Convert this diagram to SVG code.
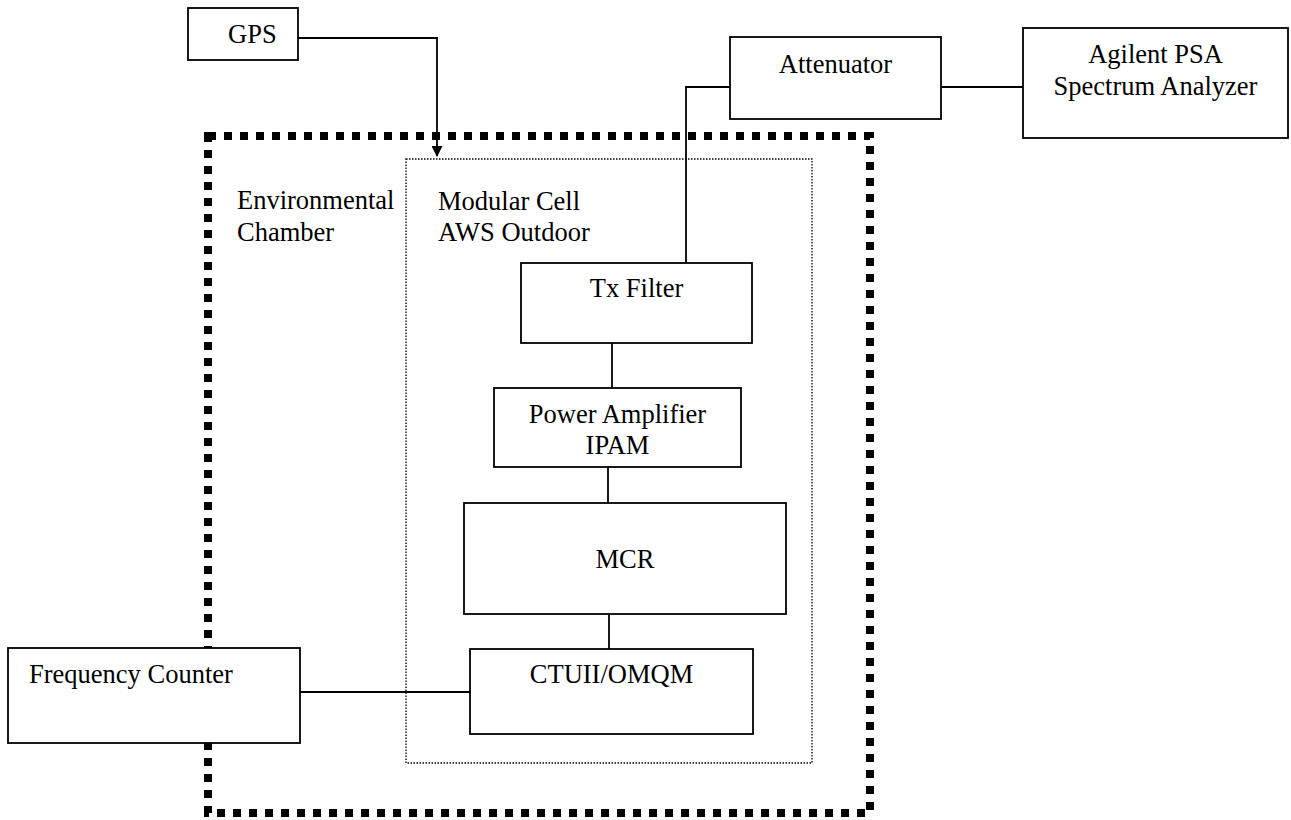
<svg xmlns="http://www.w3.org/2000/svg" width="1291" height="820" viewBox="0 0 1291 820">
<defs>
<marker id="arrow" markerWidth="11" markerHeight="11" refX="10" refY="5.5" orient="auto" markerUnits="userSpaceOnUse">
<path d="M0,0 L11,5.5 L0,11 Z" fill="#000"/>
</marker>
</defs>
<style>
.box{fill:#fff;stroke:#000;stroke-width:1.8}
.t{font-family:"Liberation Serif","Times New Roman",serif;font-size:26.5px;fill:#000}
.c{text-anchor:middle}
.conn{fill:none;stroke:#000;stroke-width:1.8}
.outer{fill:none;stroke:#000;stroke-width:8;stroke-dasharray:8 8}
.inner{fill:none;stroke:#000;stroke-width:1.3;stroke-dasharray:1.5 1.5}
</style>
<rect id="bg" x="0" y="0" width="1291" height="820" fill="#fff"/>
<g id="environmental-chamber">
<rect class="outer" x="208" y="136" width="662" height="677"/>
<text class="t" x="237" y="209">Environmental</text>
<text class="t" x="237" y="241">Chamber</text>
</g>
<g id="modular-cell">
<rect class="inner" x="406" y="159" width="406" height="604"/>
<text class="t" x="438" y="210">Modular Cell</text>
<text class="t" x="438" y="241">AWS Outdoor</text>
</g>
<g id="connectors">
<path class="conn" d="M298,38 H437 V156" marker-end="url(#arrow)"/>
<path class="conn" d="M941,87 H1023"/>
<path class="conn" d="M730,87 H686 V263"/>
<path class="conn" d="M612,343 V388"/>
<path class="conn" d="M608,467 V503"/>
<path class="conn" d="M609,614 V649"/>
<path class="conn" d="M300,692 H470"/>
</g>
<g id="gps">
<rect class="box" x="188" y="8" width="110" height="52"/>
<text class="t" x="228" y="43">GPS</text>
</g>
<g id="attenuator">
<rect class="box" x="730" y="37" width="211" height="82"/>
<text class="t c" x="835.5" y="73">Attenuator</text>
</g>
<g id="spectrum-analyzer">
<rect class="box" x="1023" y="28" width="265" height="110"/>
<text class="t c" x="1155.5" y="63">Agilent PSA</text>
<text class="t c" x="1155.5" y="95">Spectrum Analyzer</text>
</g>
<g id="tx-filter">
<rect class="box" x="521" y="263" width="231" height="80"/>
<text class="t c" x="636.5" y="297">Tx Filter</text>
</g>
<g id="power-amplifier">
<rect class="box" x="494" y="388" width="247" height="79"/>
<text class="t c" x="617.5" y="423">Power Amplifier</text>
<text class="t c" x="617.5" y="454">IPAM</text>
</g>
<g id="mcr">
<rect class="box" x="464" y="503" width="322" height="111"/>
<text class="t c" x="625" y="568">MCR</text>
</g>
<g id="ctu">
<rect class="box" x="470" y="649" width="283" height="85"/>
<text class="t c" x="611.5" y="683">CTUII/OMQM</text>
</g>
<g id="frequency-counter">
<rect class="box" x="8" y="648" width="292" height="95"/>
<text class="t" x="29" y="683">Frequency Counter</text>
</g>
</svg>
